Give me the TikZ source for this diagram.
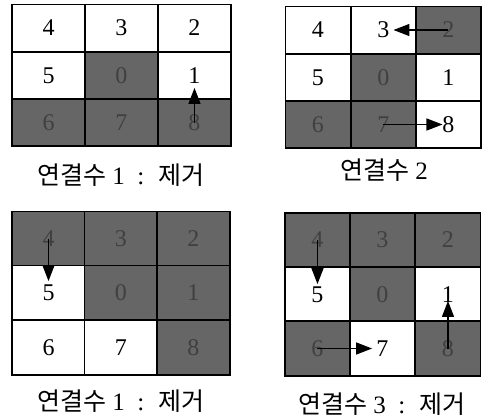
\documentclass[tikz,border=0pt]{standalone}
\usepackage{fontspec}
\setmainfont{Liberation Serif}
\newfontfamily\kr{Noto Sans CJK KR}
\usetikzlibrary{arrows.meta}
\definecolor{shade}{gray}{0.40}

\begin{document}
\begin{tikzpicture}[
  x=0.5pt, y=-0.5pt,
  every node/.style={rectangle, sharp corners, align=center, inner sep=0pt},
  whitecell/.style={draw=black, fill=white, line width=0.8pt, font=\fontsize{12}{14}\selectfont},
  greycell/.style={whitecell, fill=shade, text=black!75},
  sizeA/.style={minimum width=36.5pt, minimum height=23.5pt},
  sizeB/.style={minimum width=32.6pt, minimum height=23.7pt},
  sizeC/.style={minimum width=36.3pt, minimum height=27.2pt},
  sizeD/.style={minimum width=32.7pt, minimum height=27.3pt},
  caption/.style={font=\fontsize{12.5}{14}\selectfont},
  arrow/.style={-{Triangle[length=8pt, width=6pt]}, line width=0.7pt, black}
]
\useasboundingbox (0,0) rectangle (484,418);

%% Grid A (top left)
\node[whitecell, sizeA] (a4) at (48.5,28) {4};
\node[whitecell, sizeA] (a3) at (121.5,28) {3};
\node[whitecell, sizeA] (a2) at (194.5,28) {2};
\node[whitecell, sizeA] (a5) at (48.5,75.5) {5};
\node[greycell, sizeA] (a0) at (121.5,75.5) {0};
\node[whitecell, sizeA] (a1) at (194.5,75.5) {1};
\node[greycell, sizeA] (a6) at (48.5,122.5) {6};
\node[greycell, sizeA] (a7) at (121.5,122.5) {7};
\node[greycell, sizeA] (a8) at (194.5,122.5) {8};
\node[caption] (capA) at (121,175) {{\kr 연결수} 1 \ : \ {\kr 제거}};

%% Grid B (top right)
\node[whitecell, sizeB] (b4) at (318,30) {4};
\node[whitecell, sizeB] (b3) at (383.5,30) {3};
\node[greycell, sizeB] (b2) at (448.5,30) {2};
\node[whitecell, sizeB] (b5) at (318,77.5) {5};
\node[greycell, sizeB] (b0) at (383.5,77.5) {0};
\node[whitecell, sizeB] (b1) at (448.5,77.5) {1};
\node[greycell, sizeB] (b6) at (318,124.5) {6};
\node[greycell, sizeB] (b7) at (383.5,124.5) {7};
\node[whitecell, sizeB] (b8) at (448.5,124.5) {8};
\node[caption] (capB) at (384,170) {{\kr 연결수} 2};

%% Grid C (bottom left)
\node[greycell, sizeC] (c4) at (48.5,238.5) {4};
\node[greycell, sizeC] (c3) at (121,238.5) {3};
\node[greycell, sizeC] (c2) at (193.5,238.5) {2};
\node[whitecell, sizeC] (c5) at (48.5,292.5) {5};
\node[greycell, sizeC] (c0) at (121,292.5) {0};
\node[greycell, sizeC] (c1) at (193.5,292.5) {1};
\node[whitecell, sizeC] (c6) at (48.5,347.5) {6};
\node[whitecell, sizeC] (c7) at (121,347.5) {7};
\node[greycell, sizeC] (c8) at (193.5,347.5) {8};
\node[caption] (capC) at (121,401) {{\kr 연결수} 1 \ : \ {\kr 제거}};

%% Grid D (bottom right)
\node[greycell, sizeD] (d4) at (317.5,240) {4};
\node[greycell, sizeD] (d3) at (382.5,240) {3};
\node[greycell, sizeD] (d2) at (448,240) {2};
\node[whitecell, sizeD] (d5) at (317.5,294.5) {5};
\node[greycell, sizeD] (d0) at (382.5,294.5) {0};
\node[whitecell, sizeD] (d1) at (448,294.5) {1};
\node[greycell, sizeD] (d6) at (317.5,348.5) {6};
\node[whitecell, sizeD] (d7) at (382.5,348.5) {7};
\node[greycell, sizeD] (d8) at (448,348.5) {8};
\node[caption] (capD) at (382,404) {{\kr 연결수} 3 \ : \ {\kr 제거}};

%% Arrows
\draw[arrow, shorten >=6.2pt] (a8.center) -- (a1.center);
\draw[arrow, shorten >=5pt] (b2.center) -- (b3.center);
\draw[arrow, shorten >=3pt] (b7.center) -- (b8.center);
\draw[arrow, shorten >=5.7pt] (c4.center) -- (c5.center);
\draw[arrow, shorten >=5.2pt] (d4.center) -- (d5.center);
\draw[arrow, shorten >=5.2pt] (d6.center) -- (d7.center);
\draw[arrow, shorten >=3.2pt] (d8.center) -- (d1.center);

\end{tikzpicture}
\end{document}
